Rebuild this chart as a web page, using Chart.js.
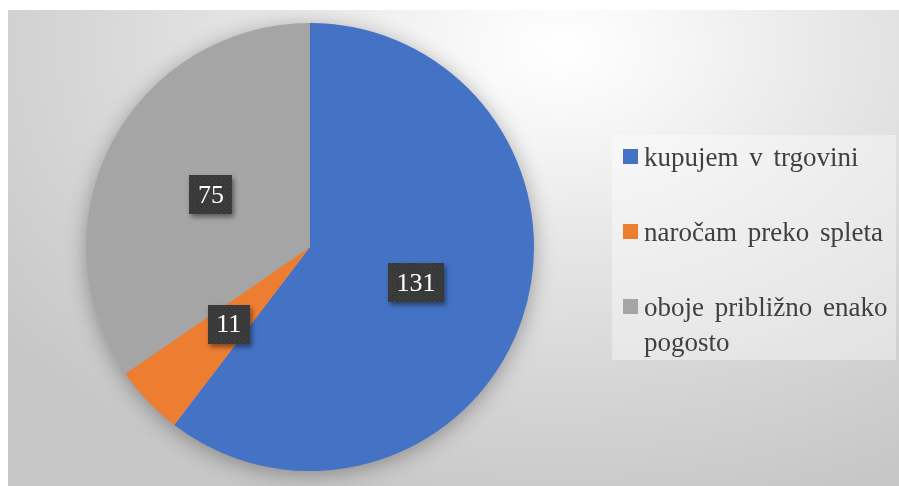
<!DOCTYPE html>
<html>
<head>
<meta charset="utf-8">
<script src="https://cdn.jsdelivr.net/npm/chart.js@4.4.1/dist/chart.umd.min.js"></script>
<style>
    html, body { margin: 0; padding: 0; background: #fff; }
    body { width: 899px; height: 486px; position: relative; overflow: hidden; font-family: "Liberation Serif", "Times New Roman", serif; }
    #wrap {
        position: absolute; left: 8px; top: 10px; width: 891px; height: 476px;
        background: radial-gradient(ellipse 78% 100% at 62% 8%, #ffffff 0%, #f7f7f7 15%, #e6e6e6 42%, #d6d6d6 70%, #c7c7c7 100%);
    }
    #pie { position: absolute; left: 0; top: 0; }
    #legend {
        position: absolute; left: 604px; top: 125px; width: 284px; height: 225px;
        background: rgba(255,255,255,0.38);
        list-style: none; margin: 0; padding: 5px 0 0 0; box-sizing: border-box;
    }
    #legend li { display: flex; align-items: flex-start; margin: 0 0 40px 0; }
    #legend .sw { width: 15px; height: 15px; margin: 9px 6px 0 11px; flex: none; }
    #legend .tx { font-size: 27px; line-height: 35px; color: #404040; word-spacing: 4px; width: 250px; }
</style>
</head>
<body>
<div id="wrap">
    <canvas id="pie" width="891" height="476"></canvas>
    <ul id="legend"></ul>
</div>
<script>
(() => {
    // === DATA ===
    const labels = ['kupujem v trgovini', 'naročam preko spleta', 'oboje približno enako pogosto'];
    const values = [131, 11, 75];
    const colors = ['#4472C4', '#ED7D31', '#A5A5A5'];

    // legenda (HTML, desno)
    const legend = document.getElementById('legend');
    labels.forEach((t, i) => {
        const li = document.createElement('li');
        const sw = document.createElement('span');
        sw.className = 'sw';
        sw.style.background = colors[i];
        const tx = document.createElement('span');
        tx.className = 'tx';
        tx.textContent = t;
        li.appendChild(sw);
        li.appendChild(tx);
        legend.appendChild(li);
    });

    // vzorec s pikicami za ozadje oznak
    const pat = document.createElement('canvas');
    pat.width = 5; pat.height = 5;
    const pc = pat.getContext('2d');
    pc.fillStyle = '#393939';
    pc.fillRect(0, 0, 5, 5);
    pc.fillStyle = '#474747';
    pc.fillRect(1, 1, 1, 1);
    pc.fillRect(3, 3, 1, 1);

    // senca pod tortnim grafom
    const pieShadow = {
        id: 'pieShadow',
        beforeDatasetsDraw(chart) {
            const arc = chart.getDatasetMeta(0).data[0];
            if (!arc) return;
            const ctx = chart.ctx;
            ctx.save();
            ctx.shadowColor = 'rgba(0,0,0,0.35)';
            ctx.shadowBlur = 22;
            ctx.shadowOffsetY = 4;
            ctx.fillStyle = '#a5a5a5';
            ctx.beginPath();
            ctx.arc(arc.x, arc.y, arc.outerRadius - 1, 0, Math.PI * 2);
            ctx.fill();
            ctx.restore();
        }
    };

    // temne oznake z vrednostmi
    const valueLabels = {
        id: 'valueLabels',
        afterDatasetsDraw(chart) {
            const ctx = chart.ctx;
            const pattern = ctx.createPattern(pat, 'repeat');
            chart.getDatasetMeta(0).data.forEach((arc, i) => {
                const p = arc.tooltipPosition();
                const txt = String(values[i]);
                ctx.save();
                ctx.font = '26px "Liberation Serif", serif';
                const w = ctx.measureText(txt).width + 17;
                const h = 39;
                const x = Math.round(p.x - w / 2);
                const y = Math.round(p.y - h / 2);
                ctx.shadowColor = 'rgba(0,0,0,0.45)';
                ctx.shadowBlur = 5;
                ctx.shadowOffsetX = 2;
                ctx.shadowOffsetY = 3;
                ctx.fillStyle = pattern;
                ctx.fillRect(x, y, w, h);
                ctx.shadowColor = 'transparent';
                ctx.fillStyle = '#ffffff';
                ctx.textAlign = 'center';
                ctx.textBaseline = 'middle';
                ctx.fillText(txt, p.x, p.y + 1);
                ctx.restore();
            });
        }
    };

    new Chart(document.getElementById('pie').getContext('2d'), {
        type: 'pie',
        data: {
            labels,
            datasets: [{
                data: values,
                backgroundColor: colors,
                borderWidth: 0,
                hoverOffset: 0
            }]
        },
        options: {
            responsive: false,
            animation: false,
            events: [],
            layout: {
                padding: { left: 78, top: 13, right: 365, bottom: 15 }
            },
            plugins: {
                legend: { display: false },
                tooltip: { enabled: false }
            }
        },
        plugins: [pieShadow, valueLabels]
    });
})();
</script>
</body>
</html>
